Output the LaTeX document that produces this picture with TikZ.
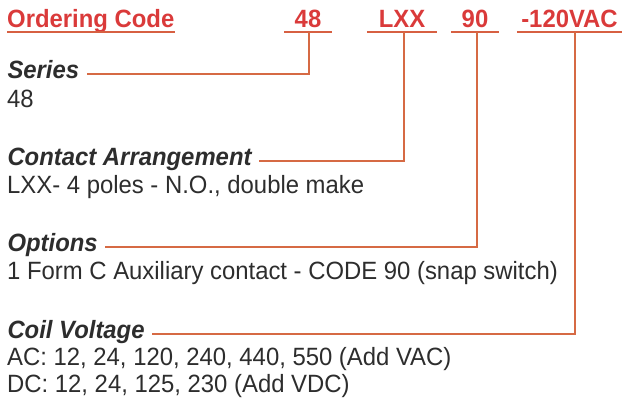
\documentclass[tikz,border=0pt]{standalone}
\usepackage{fontspec}
\setmainfont{Liberation Sans}[FakeStretch=0.955]
\definecolor{codered}{RGB}{218,58,58}
\definecolor{lineorange}{RGB}{214,106,68}
\definecolor{txtgray}{RGB}{45,45,45}
\begin{document}
\begin{tikzpicture}[x=1pt,y=-1pt,
  codetxt/.style={font=\fontsize{25}{30}\selectfont\bfseries, text=codered,
    inner xsep=0pt, inner ysep=5pt, text depth=0pt, anchor=base},
  headtxt/.style={font=\fontsize{25}{30}\selectfont\bfseries\itshape, text=txtgray,
    inner sep=0pt, outer xsep=7.5pt, text height=8.5pt, text depth=0pt, anchor=base west},
  bodytxt/.style={font=\fontsize{25}{30}\selectfont, text=txtgray,
    inner sep=0pt, anchor=base west},
  uline/.style={draw=lineorange!80!codered, line width=2.2pt},
  conn/.style={draw=lineorange, line width=2.2pt}
]
\useasboundingbox (0,0) rectangle (626,407);

% ordering code header
\node[codetxt, anchor=base west] (oc) at (7,27) {Ordering Code};
\node[codetxt, minimum width=47pt] (c48) at (308,27) {48};
\node[codetxt, minimum width=70pt] (clxx) at (402,27) {LXX};
\node[codetxt, minimum width=47pt] (c90) at (475,27) {90};
\node[codetxt, minimum width=105pt] (cvac) at (569.5,27) {-120VAC};

\draw[uline] (oc.south west) -- (oc.south east);
\draw[uline] (c48.south west) -- (c48.south east);
\draw[uline] (clxx.south west) -- (clxx.south east);
\draw[uline] (c90.south west) -- (c90.south east);
\draw[uline] (cvac.south west) -- (cvac.south east);

% descriptions
\node[headtxt] (series) at (0,78) {Series};
\node[bodytxt] (seriesb) at (7,107) {48};
\node[headtxt] (contact) at (0,165) {Contact Arrangement};
\node[bodytxt] (contactb) at (7,193) {LXX- 4 poles - N.O., double make};
\node[headtxt] (options) at (0,251) {Options};
\node[bodytxt] (optionsb) at (7,279) {1 Form C Auxiliary contact - CODE 90 (snap switch)};
\node[headtxt] (coil) at (0,338) {Coil Voltage};
\node[bodytxt] (coilac) at (7,365) {AC: 12, 24, 120, 240, 440, 550 (Add VAC)};
\node[bodytxt] (coildc) at (7,392) {DC: 12, 24, 125, 230 (Add VDC)};

% connectors
\draw[conn] ([xshift=1pt]c48.south) |- (series.east);
\draw[conn] ([xshift=2pt]clxx.south) |- (contact.east);
\draw[conn] ([xshift=2pt]c90.south) |- (options.east);
\draw[conn] ([xshift=5.5pt]cvac.south) |- (coil.east);
\end{tikzpicture}
\end{document}
